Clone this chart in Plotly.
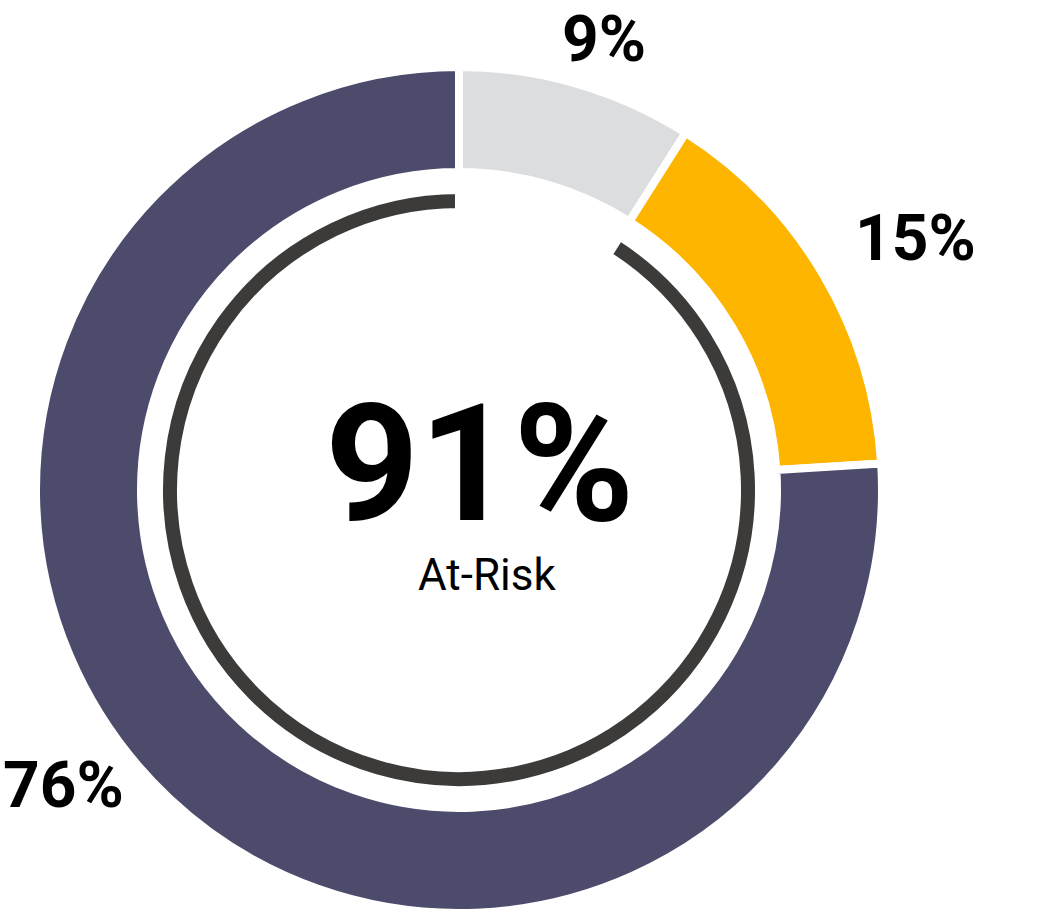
import plotly.graph_objects as go

W, H = 1054, 917

# Data
categories = ["Not at risk", "At risk (moderate)", "At risk (high)"]
values = [9, 15, 76]
value_labels = ["9%", "15%", "76%"]
colors = ["#DCDDDF", "#FDB500", "#4D4B6B"]

at_risk_total = 91
ring_values = [100 - at_risk_total, at_risk_total]
center_value = "91%"
center_label = "At-Risk"

def dom(cx, cy, r):
    return dict(x=[max(0, (cx - r) / W), min(1, (cx + r) / W)],
                y=[max(0, (H - cy - r) / H), min(1, (H - cy + r) / H)])

def px(x, y):
    return x / W, 1 - y / H

CX, CY = 459, 490
GAP = 8

fig = go.Figure()
R_out = 419 + GAP / 2
r_in = 322 - GAP / 2
fig.add_trace(go.Pie(
    labels=categories, values=values, sort=False, direction="clockwise",
    rotation=0, hole=r_in / R_out, domain=dom(CX, CY, R_out),
    marker=dict(colors=colors, line=dict(color="white", width=GAP)),
    textinfo="none", hoverinfo="skip", showlegend=False,
))

R_ring = 296 + GAP / 2
r_ring = 282 - GAP / 2
fig.add_trace(go.Pie(
    labels=["rest", "at-risk"], values=ring_values, sort=False,
    direction="clockwise", rotation=0, hole=r_ring / R_ring,
    domain=dom(CX, CY, R_ring),
    marker=dict(colors=["rgba(0,0,0,0)", "#3C3B39"],
                line=dict(color="white", width=GAP)),
    textinfo="none", hoverinfo="skip", showlegend=False,
))

label_pos = [(604, 40), (915, 239), (63, 785)]
annotations = []
for t, (x, y) in zip(value_labels, label_pos):
    ax, ay = px(x, y)
    annotations.append(dict(
        text=t, x=ax, y=ay, xref="paper", yref="paper",
        xanchor="center", yanchor="middle", showarrow=False,
        font=dict(family="Roboto", size=64, color="black", weight="bold"),
    ))

ax, ay = px(479, 464)
annotations.append(dict(
    text=center_value, x=ax, y=ay, xref="paper", yref="paper",
    xanchor="center", yanchor="middle", showarrow=False,
    font=dict(family="Roboto", size=164, color="black", weight="bold"),
))
ax, ay = px(487, 575)
annotations.append(dict(
    text=center_label, x=ax, y=ay, xref="paper", yref="paper",
    xanchor="center", yanchor="middle", showarrow=False,
    font=dict(family="Roboto", size=44, color="black"),
))

fig.update_layout(
    width=W, height=H, margin=dict(l=0, r=0, t=0, b=0),
    paper_bgcolor="white", plot_bgcolor="white",
    annotations=annotations,
)

# remove the default 8px page margin so the figure fills the window exactly
fig.write_html("out.html", config={"displayModeBar": False},
               post_script="document.body.style.margin='0px';")
